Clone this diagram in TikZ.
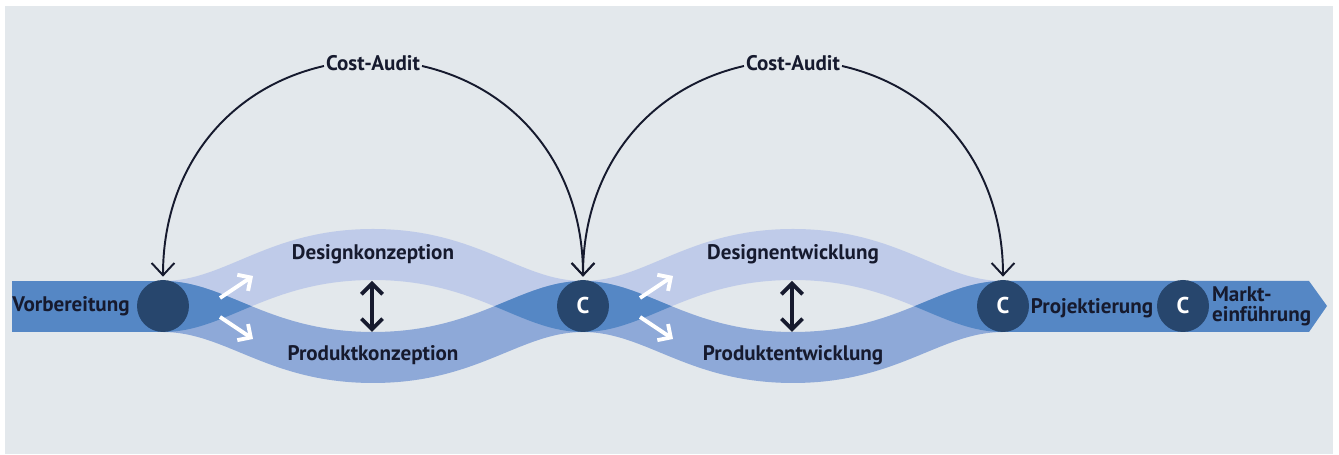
\documentclass[tikz,border=0pt]{standalone}
\usepackage{fontspec}
\setmainfont{PT Sans}
\usetikzlibrary{arrows.meta}

\definecolor{bgpanel}{HTML}{E3E8EC}
\definecolor{mainblue}{HTML}{5587C5}
\definecolor{lightblue}{HTML}{BFCBE9}
\definecolor{midblue}{HTML}{8EA9D8}
\definecolor{darkblue}{HTML}{27466D}
\definecolor{inktext}{HTML}{161A2E}

\begin{document}
\begin{tikzpicture}[x=0.02cm, y=0.02cm,
    phase/.style={font=\bfseries\fontsize{12}{11.5}\selectfont, text=inktext, inner sep=1pt},
    gate/.style={circle, fill=darkblue, minimum size=1.04cm, inner sep=0pt, text=white, font=\bfseries\fontsize{13}{13}\selectfont},
    audit/.style={draw=inktext, line width=1.1pt, -{Straight Barb[length=7pt,width=13pt]}},
    flow/.style={draw=white, line width=2.2pt, -{Straight Barb[length=5.5pt,width=11pt]}},
    link/.style={draw=inktext, line width=2.2pt, {Straight Barb[length=6pt,width=12pt]}-{Straight Barb[length=6pt,width=12pt]}}]

    \useasboundingbox (0,0) rectangle (1339,455);
    \fill[white] (0,0) rectangle (1339,455);
    \fill[bgpanel] (5,1) rectangle (1333,449);

    % main band
    \fill[mainblue] (12,123) rectangle (163,174);
    \fill[mainblue] (1003,123) -- (1309,123) -- (1327,149) -- (1309,174) -- (1003,174) -- cycle;

    % design and product bands, overlap in main blue
    \foreach \dx in {163,583} {
        \begin{scope}[xshift=\dx*0.02cm]
            \fill[lightblue] (0,174) .. controls (63,174) and (105,226) .. (210,226) .. controls (315,226) and (357,174) .. (420,174)
                -- (420,123) .. controls (357,123) and (315,175) .. (210,175) .. controls (105,175) and (63,123) .. (0,123) -- cycle;
            \fill[midblue] (0,174) .. controls (63,174) and (105,123) .. (210,123) .. controls (315,123) and (357,174) .. (420,174)
                -- (420,123) .. controls (357,123) and (315,72) .. (210,72) .. controls (105,72) and (63,123) .. (0,123) -- cycle;
            \begin{scope}
                \clip (0,174) .. controls (63,174) and (105,226) .. (210,226) .. controls (315,226) and (357,174) .. (420,174)
                    -- (420,123) .. controls (357,123) and (315,175) .. (210,175) .. controls (105,175) and (63,123) .. (0,123) -- cycle;
                \fill[mainblue] (0,174) .. controls (63,174) and (105,123) .. (210,123) .. controls (315,123) and (357,174) .. (420,174)
                    -- (420,123) .. controls (357,123) and (315,72) .. (210,72) .. controls (105,72) and (63,123) .. (0,123) -- cycle;
            \end{scope}
        \end{scope}
    }

    \node[gate] (c1) at (163,149) {};
    \node[gate] (c2) at (583,149) {C};
    \node[gate] (c3) at (1003,149) {C};
    \node[gate] (c4) at (1183,149) {C};

    \node[phase] (prep) at (71,149) {Vorbereitung};
    \node[phase] (plan) at (1092,147) {Projektierung};
    \node[phase, anchor=west, align=left] (launch) at (1210,149) {Markt-\\einführung};

    \foreach \dx/\a/\b/\dname/\pname in {163/c1/c2/Designkonzeption/Produktkonzeption, 583/c2/c3/Designentwicklung/Produktentwicklung} {
        \begin{scope}[xshift=\dx*0.02cm]
            \node[phase] (design-\a) at (210,201) {\dname};
            \node[phase] (product-\a) at (210,100) {\pname};
            \node[phase] (audit-\a) at (210,392) {Cost-Audit};
            \coordinate (s1-\a) at (57,157);
            \coordinate (e1-\a) at (90,179);
            \coordinate (s2-\a) at (57,138);
            \coordinate (e2-\a) at (90,116);
            \coordinate (top-\a) at (209,174);
            \coordinate (bot-\a) at (209,123);
        \end{scope}
        \draw[flow] (s1-\a) -- (e1-\a);
        \draw[flow] (s2-\a) -- (e2-\a);
        \draw[link] (top-\a) -- (bot-\a);
        \draw[audit] ([yshift=-0.06cm]audit-\a.west) to[out=193,in=90] ([yshift=1.7pt]\a.north);
        \draw[audit] ([yshift=-0.06cm]audit-\a.east) to[out=-13,in=90] ([yshift=1.7pt]\b.north);
    }
\end{tikzpicture}
\end{document}
